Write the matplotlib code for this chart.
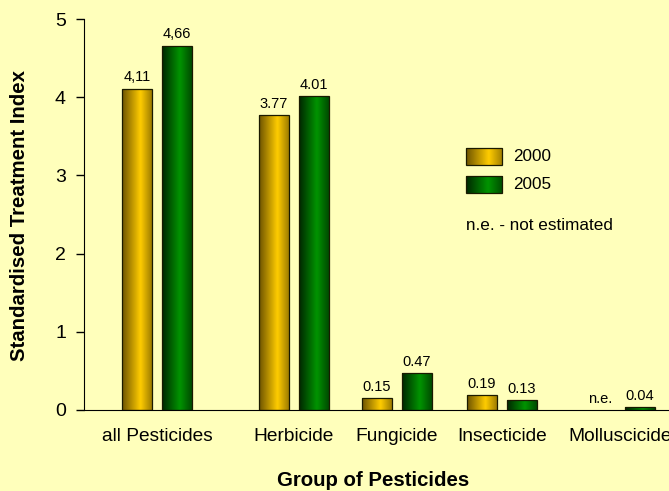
import matplotlib
matplotlib.use("Agg")
import matplotlib.pyplot as plt
import numpy as np
from matplotlib.colors import LinearSegmentedColormap
from matplotlib.patches import Rectangle

plt.rcParams['font.family'] = ['Liberation Sans', 'DejaVu Sans']

# data
groups = ['all Pesticides', 'Herbicide', 'Fungicide', 'Insecticide', 'Molluscicide']
years = ['2000', '2005']
sti_2000 = [4.11, 3.77, 0.15, 0.19, np.nan]   # molluscicide 2000 not estimated
sti_2005 = [4.66, 4.01, 0.47, 0.13, 0.04]
labels_2000 = ['4,11', '3.77', '0.15', '0.19', 'n.e.']
labels_2005 = ['4,66', '4.01', '0.47', '0.13', '0.04']
yticks = [0, 1, 2, 3, 4, 5]

# layout (x axis in pixel-like units, groups are not evenly spaced)
group_x = np.array([73, 210, 313, 418, 536])
bar_w = 30
offset = 20

bg = '#FFFFBB'
gold = LinearSegmentedColormap.from_list('gold', [(0, '#6e5400'), (0.62, '#ffcc00'), (1, '#a07e00')])
green = LinearSegmentedColormap.from_list('green', [(0, '#002800'), (0.6, '#009400'), (1, '#004c00')])
grad = np.linspace(0, 1, 64).reshape(1, -1)

fig = plt.figure(figsize=(6.69, 4.91), dpi=100, facecolor=bg)
ax = fig.add_axes([84/669, 81/491, 585/669, 391/491])
ax.set_facecolor(bg)


def gradient_bars(xs, vals, labels, cmap):
    bars = ax.bar(xs, np.nan_to_num(vals), width=bar_w, facecolor='none',
                  edgecolor='#1a1a00', linewidth=0.9, zorder=3)
    for b, v, lab in zip(bars, vals, labels):
        x0 = b.get_x()
        xc = x0 + b.get_width()/2
        if np.isnan(v):
            b.set_visible(False)
            ax.annotate(lab, (xc, 0), xytext=(0, 3), textcoords='offset points',
                        ha='center', va='bottom', fontsize=10.5)
            continue
        im = ax.imshow(grad, cmap=cmap, extent=(x0, x0 + b.get_width(), 0, v),
                       aspect='auto', zorder=2, interpolation='bicubic')
        im.set_clip_path(b)
        ax.annotate(lab, (xc, v), xytext=(0, 3), textcoords='offset points',
                    ha='center', va='bottom', fontsize=10.5)
    return bars


gradient_bars(group_x - offset, sti_2000, labels_2000, gold)
gradient_bars(group_x + offset, sti_2005, labels_2005, green)

# legend drawn by hand so the swatches get the gradient too
for i, (name, cmap) in enumerate(zip(years, [gold, green])):
    y0 = 0.627 - i*0.072
    ax.imshow(grad, cmap=cmap, extent=(0.653, 0.715, y0, y0 + 0.043),
              transform=ax.transAxes, aspect='auto', zorder=4, interpolation='bicubic')
    ax.add_patch(Rectangle((0.653, y0), 0.062, 0.043, transform=ax.transAxes,
                           fill=False, edgecolor='#1a1a00', lw=0.9, zorder=5))
    ax.text(0.733, y0 + 0.0215, name, transform=ax.transAxes, va='center', fontsize=12.3)
ax.text(0.653, 0.473, 'n.e. - not estimated', transform=ax.transAxes, va='center', fontsize=12.3)

ax.set_xlim(0, 585)
ax.set_ylim(0, 5)
ax.set_yticks(yticks)
ax.set_xticks(group_x, groups)
ax.tick_params(axis='y', direction='out', length=6, width=1, labelsize=14, pad=7)
ax.tick_params(axis='x', length=0, labelsize=13.8, pad=13)
ax.spines['top'].set_visible(False)
ax.spines['right'].set_visible(False)

fig.text(20/669, 275.5/491, 'Standardised Treatment Index', rotation=90,
         ha='center', va='center', fontsize=14.7, fontweight='bold')
fig.text(373.5/669, 10.5/491, 'Group of Pesticides', ha='center', va='center',
         fontsize=14.7, fontweight='bold')

fig.savefig('out.png', dpi=100, facecolor=bg)
